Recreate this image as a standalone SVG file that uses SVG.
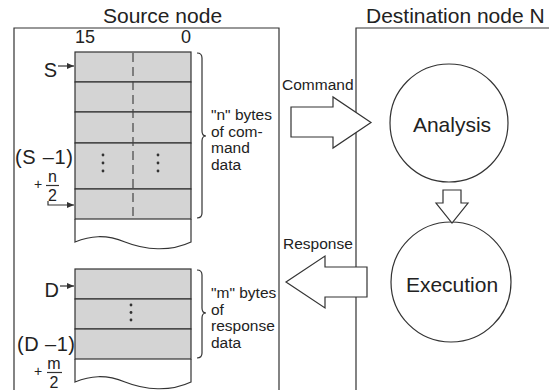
<svg xmlns="http://www.w3.org/2000/svg" width="549" height="390" viewBox="0 0 549 390">
<style>
text{font-family:"Liberation Sans",Arial,sans-serif;fill:#222}
.t{font-size:21px}
.s{font-size:15.5px}
.m{font-size:18px}
.l{font-size:20px}
.f{font-size:16px}
.p{font-size:14px}
.ln{fill:none;stroke:#333;stroke-width:1.2}
.gr{fill:#d4d4d4;stroke:#333;stroke-width:1.2}
.wt{fill:#fff;stroke:#333;stroke-width:1.2}
.dot{fill:#333}
</style>
<defs>
<marker id="ah" markerUnits="userSpaceOnUse" markerWidth="7" markerHeight="6" refX="7" refY="3" orient="auto">
<path d="M0,0 L7,3 L0,6 z" fill="#333"/>
</marker>
</defs>

<g id="source-node">
<path class="ln" d="M14,395 V28 H279 V395"/>
<text class="t" x="103" y="23">Source node</text>
<text class="m" x="75" y="43">15</text>
<text class="m" x="191" y="43" text-anchor="end">0</text>
</g>

<g id="command-table">
<path class="wt" d="M75,219 V242 C90,236 105,234 125,242 S170,252 191,242 V219"/>
<rect class="gr" x="75" y="52" width="116" height="30"/>
<rect class="gr" x="75" y="82" width="116" height="30"/>
<rect class="gr" x="75" y="112" width="116" height="31"/>
<rect class="gr" x="75" y="143" width="116" height="46"/>
<rect class="gr" x="75" y="189" width="116" height="30"/>
<line x1="133" y1="53" x2="133" y2="219" stroke="#444" stroke-width="1.2" stroke-dasharray="9 5"/>
<circle class="dot" cx="103" cy="155" r="1.4"/><circle class="dot" cx="103" cy="163" r="1.4"/><circle class="dot" cx="103" cy="171" r="1.4"/>
<circle class="dot" cx="158" cy="155" r="1.4"/><circle class="dot" cx="158" cy="163" r="1.4"/><circle class="dot" cx="158" cy="171" r="1.4"/>
<text class="l" x="57" y="77" text-anchor="end">S</text>
<line class="ln" x1="58" y1="66" x2="74" y2="66" marker-end="url(#ah)"/>
<text class="l" x="15" y="164" textLength="58" lengthAdjust="spacing">(S –1)</text>
<text class="p" x="34" y="189">+</text>
<text class="f" x="52.5" y="182" text-anchor="middle">n</text>
<line class="ln" x1="46" y1="185.5" x2="59" y2="185.5"/>
<text class="f" x="52.5" y="201" text-anchor="middle">2</text>
<path class="ln" d="M48,201 V205 H74" marker-end="url(#ah)"/>
<path class="ln" d="M197,53 Q202,53 202,58 V131 Q202,136 206,136 Q202,136 202,141 V213 Q202,218 197,218"/>
<text class="s" x="211" y="120">"n" bytes</text>
<text class="s" x="211" y="136.5">of com-</text>
<text class="s" x="211" y="153">mand</text>
<text class="s" x="211" y="169.5">data</text>
</g>

<g id="response-table">
<path class="wt" d="M75,359 V382 C90,376 105,374 125,382 S170,392 191,382 V359"/>
<rect class="gr" x="75" y="269" width="116" height="30"/>
<rect class="gr" x="75" y="299" width="116" height="30"/>
<rect class="gr" x="75" y="329" width="116" height="30"/>
<circle class="dot" cx="131" cy="305" r="1.4"/><circle class="dot" cx="131" cy="312.5" r="1.4"/><circle class="dot" cx="131" cy="320" r="1.4"/>
<text class="l" x="59" y="297" text-anchor="end">D</text>
<line class="ln" x1="60" y1="286" x2="74" y2="286" marker-end="url(#ah)"/>
<text class="l" x="17" y="351" textLength="58" lengthAdjust="spacing">(D –1)</text>
<text class="p" x="34" y="376">+</text>
<text class="f" x="54" y="369" text-anchor="middle">m</text>
<line class="ln" x1="47" y1="372.5" x2="62" y2="372.5"/>
<text class="f" x="54" y="388" text-anchor="middle">2</text>
<path class="ln" d="M197,270 Q202,270 202,275 V308 Q202,313 206,313 Q202,313 202,318 V353 Q202,358 197,358"/>
<text class="s" x="211" y="298">"m" bytes</text>
<text class="s" x="211" y="314.5">of</text>
<text class="s" x="211" y="331">response</text>
<text class="s" x="211" y="347.5">data</text>
</g>

<g id="destination-node">
<path class="ln" d="M356,395 V28 H555"/>
<text class="t" x="366" y="23">Destination node N</text>
</g>

<g id="analysis">
<circle class="wt" cx="449" cy="123" r="59"/>
<text class="t" x="452" y="132" text-anchor="middle">Analysis</text>
</g>

<g id="execution">
<circle class="wt" cx="451" cy="282" r="60"/>
<text class="t" x="452" y="292" text-anchor="middle">Execution</text>
</g>

<g id="connectors">
<polygon class="wt" points="291,107 333,107 333,97 371,122.5 333,148 333,137 291,137"/>
<text class="s" x="282" y="90">Command</text>
<polygon class="wt" points="367,267 325,267 325,256 286,282 325,308 325,297 367,297"/>
<text class="s" x="283" y="249">Response</text>
<polygon class="wt" points="443,190 461,190 461,203 468,203 452,223 436,203 443,203"/>
</g>
</svg>
